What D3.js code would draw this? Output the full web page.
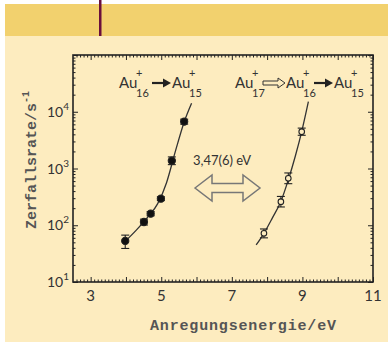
<html>
<head>
<meta charset="utf-8">
<style>
  body { margin: 0; background: #fff; }
  .tick line { stroke: #222; }
  .domain { display: none; }
</style>
</head>
<body>
<script src="https://cdn.jsdelivr.net/npm/d3@7/dist/d3.min.js"></script>
<script>
// Messpunkte Au16+ -> Au15+ (gefuellte Kreise)
var directE = [3.98, 4.51, 4.70, 4.99, 5.30, 5.65];
var directRate = [53, 114, 160, 294, 1370, 6700];
var directLo = [39, 101, 147, 272, 1170, 6050];
var directHi = [67, 128, 174, 318, 1600, 7400];

// Messpunkte Au17+ => Au16+ -> Au15+ (offene Kreise)
var seqE = [7.91, 8.39, 8.60, 8.98];
var seqRate = [72, 260, 672, 4450];
var seqLo = [60, 210, 540, 3850];
var seqHi = [86, 322, 835, 5150];

// Anpassungskurven
var fitDirectE = [3.95, 4.3, 4.6, 4.9, 5.15, 5.4, 5.65, 5.86];
var fitDirectRate = [50, 83, 135, 240, 562, 2000, 6600, 14100];
var fitSeqE = [7.69, 7.91, 8.15, 8.39, 8.6, 8.8, 8.98, 9.17];
var fitSeqRate = [45, 72, 135, 263, 630, 1660, 4470, 15100];

var xTicks = [3, 5, 7, 9, 11];
var yTicks = [10, 100, 1000, 10000];

var W = 388, H = 342;
var svg = d3.select("body").append("svg").attr("width", W).attr("height", H);

// Hintergrund
svg.append("rect").attr("x", 5).attr("y", 4).attr("width", W - 5).attr("height", 32).attr("fill", "#f2d16e");
svg.append("rect").attr("x", 5).attr("y", 36).attr("width", W - 5).attr("height", H - 36).attr("fill", "#fdecbf");
svg.append("rect").attr("x", 99).attr("y", 0).attr("width", 2.5).attr("height", 36).attr("fill", "#6a0f3c");

var pLeft = 73, pRight = 373, pTop = 55, pBottom = 282;
var x = d3.scaleLinear().domain([2.5, 11]).range([pLeft, pRight]);
var y = d3.scaleLog().domain([10, 1e5]).range([pBottom, pTop]);

var ink = "#222";

// Achsen mit Teilstrichen nach innen
var minorX = d3.range(26, 111).map(function (v) { return v / 10; }).filter(function (v) { return Math.abs(v - Math.round(v)) > 0.01; });
var majorX = d3.range(3, 12);
var minorY = [];
[10, 100, 1000, 10000].forEach(function (d) { for (var k = 2; k <= 9; k++) minorY.push(d * k); });

function addAxis(axisFn, scale, values, size, transform) {
  var g = svg.append("g").attr("transform", transform)
    .call(axisFn(scale).tickValues(values).tickSize(size).tickFormat(""));
  g.selectAll(".tick line").attr("stroke-width", 1);
  g.selectAll("text").remove();
  return g;
}
addAxis(d3.axisBottom, x, minorX, -2.5, "translate(0," + pBottom + ")");
addAxis(d3.axisBottom, x, majorX, -5, "translate(0," + pBottom + ")");
addAxis(d3.axisTop, x, minorX, -2.5, "translate(0," + pTop + ")");
addAxis(d3.axisTop, x, majorX, -5, "translate(0," + pTop + ")");
addAxis(d3.axisLeft, y, minorY, -2.5, "translate(" + pLeft + ",0)");
addAxis(d3.axisLeft, y, yTicks.concat([1e5]), -5, "translate(" + pLeft + ",0)");
addAxis(d3.axisRight, y, minorY, -2.5, "translate(" + pRight + ",0)");
addAxis(d3.axisRight, y, yTicks.concat([1e5]), -5, "translate(" + pRight + ",0)");

svg.append("rect").attr("x", pLeft).attr("y", pTop).attr("width", pRight - pLeft).attr("height", pBottom - pTop)
  .attr("fill", "none").attr("stroke", ink).attr("stroke-width", 1.6);

// Beschriftung der Achsen
svg.selectAll(".xlab").data(xTicks).enter().append("text")
  .attr("x", function (d) { return x(d); }).attr("y", 301)
  .attr("text-anchor", "middle").attr("font-family", "Lato").attr("font-size", 15).attr("fill", "#333")
  .text(function (d) { return d; });

var ylab = svg.selectAll(".ylab").data(yTicks).enter().append("text")
  .attr("x", 47).attr("y", function (d) { return y(d) + 5; })
  .attr("font-family", "Lato").attr("font-size", 14).attr("fill", "#333");
ylab.append("tspan").text("10");
ylab.append("tspan").attr("dy", -7).attr("font-size", 10).text(function (d) { return Math.round(Math.log10(d)); });

svg.append("text").attr("x", 243).attr("y", 330).attr("text-anchor", "middle")
  .attr("font-family", "Liberation Mono").attr("font-weight", "bold").attr("font-size", 15).attr("fill", "#555")
  .attr("textLength", 186).text("Anregungsenergie/eV");

var yt = svg.append("text").attr("transform", "translate(36,160) rotate(-90)").attr("text-anchor", "middle")
  .attr("font-family", "Liberation Mono").attr("font-weight", "bold").attr("font-size", 15).attr("fill", "#555");
yt.append("tspan").text("Zerfallsrate/s");
yt.append("tspan").attr("dy", -7).attr("font-size", 10).text("-1");

// Anpassungskurven
var line = d3.line().curve(d3.curveMonotoneX)
  .x(function (d) { return x(d[0]); }).y(function (d) { return y(d[1]); });
svg.append("path").datum(d3.zip(fitDirectE, fitDirectRate)).attr("d", line)
  .attr("fill", "none").attr("stroke", "#333").attr("stroke-width", 1.3);
svg.append("path").datum(d3.zip(fitSeqE, fitSeqRate)).attr("d", line)
  .attr("fill", "none").attr("stroke", "#333").attr("stroke-width", 1.3);

// Fehlerbalken + Punkte
function drawPoints(xs, ys, lo, hi, filled) {
  var data = xs.map(function (v, i) { return { e: v, r: ys[i], lo: lo[i], hi: hi[i] }; });
  var g = svg.append("g");
  var eb = g.selectAll("g").data(data).enter().append("g").attr("stroke", "#222").attr("stroke-width", 1.1);
  eb.append("line").attr("x1", function (d) { return x(d.e); }).attr("x2", function (d) { return x(d.e); })
    .attr("y1", function (d) { return y(d.lo); }).attr("y2", function (d) { return y(d.hi); });
  eb.append("line").attr("x1", function (d) { return x(d.e) - 4; }).attr("x2", function (d) { return x(d.e) + 4; })
    .attr("y1", function (d) { return y(d.lo); }).attr("y2", function (d) { return y(d.lo); });
  eb.append("line").attr("x1", function (d) { return x(d.e) - 4; }).attr("x2", function (d) { return x(d.e) + 4; })
    .attr("y1", function (d) { return y(d.hi); }).attr("y2", function (d) { return y(d.hi); });
  g.selectAll("circle").data(data).enter().append("circle")
    .attr("cx", function (d) { return x(d.e); }).attr("cy", function (d) { return y(d.r); })
    .attr("r", filled ? 3.6 : 2.8)
    .attr("fill", filled ? "#111" : "#fdecbf").attr("stroke", "#222").attr("stroke-width", 1.1);
}
drawPoints(directE, directRate, directLo, directHi, true);
drawPoints(seqE, seqRate, seqLo, seqHi, false);

// Reaktionsbeschriftungen
function ion(xp, n) {
  svg.append("text").attr("x", xp).attr("y", 88).attr("font-family", "Lato").attr("font-size", 15).attr("fill", "#333").text("Au");
  svg.append("text").attr("x", xp + 17).attr("y", 77).attr("font-family", "Lato").attr("font-size", 11).attr("fill", "#333").text("+");
  svg.append("text").attr("x", xp + 17).attr("y", 97).attr("font-family", "Lato").attr("font-size", 11).attr("fill", "#333").text(n);
}
function solidArrow(x0, x1) {
  svg.append("line").attr("x1", x0).attr("x2", x1 - 6).attr("y1", 83).attr("y2", 83).attr("stroke", "#222").attr("stroke-width", 2.2);
  svg.append("path").attr("d", "M" + x1 + ",83 L" + (x1 - 8) + ",78.5 L" + (x1 - 8) + ",87.5 Z").attr("fill", "#222");
}
function hollowArrow(x0, x1) {
  svg.append("path").attr("d", "M" + x0 + ",81 L" + (x1 - 7) + ",81 L" + (x1 - 7) + ",78 L" + x1 + ",83 L" + (x1 - 7) + ",88 L" + (x1 - 7) + ",85 L" + x0 + ",85 Z")
    .attr("fill", "#fdecbf").attr("stroke", "#333").attr("stroke-width", 1);
}
ion(119, "16"); solidArrow(152, 171); ion(172, "15");
ion(235, "17"); hollowArrow(263, 285); ion(286, "16"); solidArrow(314, 333); ion(334, "15");

svg.append("text").attr("x", 222).attr("y", 165).attr("text-anchor", "middle").attr("font-family", "Lato")
  .attr("font-size", 13).attr("fill", "#333").text("3,47(6) eV");

// Doppelpfeil
var ax0 = 195, ax1 = 260, ay = 188;
svg.append("path").attr("d",
  "M" + ax0 + "," + ay + " L" + (ax0 + 17) + "," + (ay - 13) + " L" + (ax0 + 17) + "," + (ay - 4.5) +
  " L" + (ax1 - 17) + "," + (ay - 4.5) + " L" + (ax1 - 17) + "," + (ay - 13) + " L" + ax1 + "," + ay +
  " L" + (ax1 - 17) + "," + (ay + 13) + " L" + (ax1 - 17) + "," + (ay + 4.5) + " L" + (ax0 + 17) + "," + (ay + 4.5) +
  " L" + (ax0 + 17) + "," + (ay + 13) + " Z")
  .attr("fill", "#fdecbf").attr("stroke", "#777").attr("stroke-width", 1.5);
</script>
</body>
</html>
